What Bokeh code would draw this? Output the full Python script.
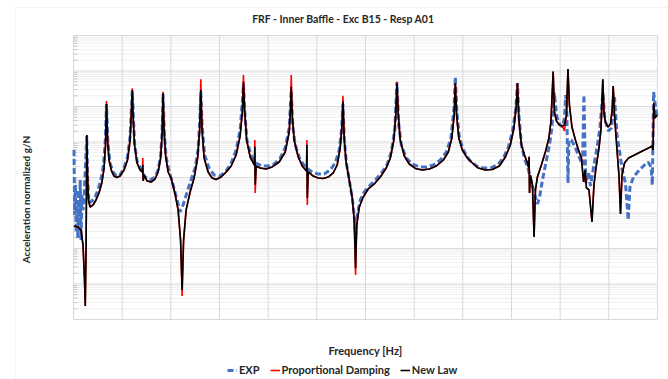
import math

from bokeh.embed import file_html
from bokeh.models import BoxAnnotation, Label, Legend, LegendItem, Range1d
from bokeh.plotting import figure
from bokeh.resources import INLINE

FONT = "Lato"
TEXT_COLOR = "#262626"

# ---- Model frequency grid [Hz] shared by both numerical models ----
freq_model = [
    0.5, 4.6, 7.7, 9.8, 11.3, 12.1, 12.9, 13.4, 13.7, 14.4,
    15.4, 17.0, 20.1, 23.1, 26.2, 29.3, 31.4, 32.9, 33.9, 35.0,
    36.5, 39.1, 41.6, 44.7, 47.8, 51.9, 55.5, 58.1, 59.6, 60.4,
    61.2, 62.7, 65.3, 68.4, 70.7, 71.2, 71.6, 72.5, 75.6, 79.7,
    83.8, 86.9, 89.5, 91.0, 92.0, 93.1, 94.6, 97.2, 100.3, 104.4,
    107.5, 110.0, 111.6, 113.1, 115.7, 119.8, 123.9, 127.5, 129.6, 130.8,
    132.1, 134.2, 138.3, 142.4, 146.5, 151.7, 156.8, 162.0, 167.1, 171.2,
    173.6, 174.6, 175.8, 177.9, 181.5, 185.9, 186.3, 186.7, 187.7, 191.8,
    197.9, 204.1, 211.3, 217.5, 221.6, 222.9, 223.7, 224.7, 226.7, 230.9,
    235.0, 239.4, 239.8, 240.2, 241.1, 246.3, 251.4, 256.6, 261.7, 266.8,
    270.9, 274.0, 275.9, 276.8, 278.2, 280.2, 283.3, 286.4, 288.4, 289.8,
    291.0, 293.6, 297.7, 302.8, 309.0, 315.2, 321.3, 325.5, 329.1, 331.1,
    332.3, 333.7, 335.7, 339.9, 345.0, 351.2, 358.4, 365.6, 372.8, 380.0,
    385.1, 388.7, 391.1, 392.3, 393.6, 395.9, 399.5, 404.6, 409.8, 415.9,
    423.1, 430.3, 437.5, 443.7, 448.8, 452.5, 455.0, 456.1, 457.6, 460.2,
    463.3, 466.4, 467.7, 468.1, 468.5, 469.4, 471.5, 473.2, 474.6, 476.6,
    480.7, 484.8, 488.4, 490.5, 492.8, 494.1, 496.2, 499.2, 502.3, 504.4,
    506.5, 508.0, 509.5, 512.1, 515.7, 518.8, 521.9, 523.4, 524.1, 525.5,
    527.0, 529.6, 532.7, 534.7, 536.8, 539.9, 541.9, 543.8, 545.0, 546.5,
    549.1, 551.7, 553.4, 554.5, 555.8, 558.4, 560.4, 562.0, 563.5, 566.1,
    570.2, 576.4, 582.5, 588.7, 592.8, 594.4, 595.4, 596.2, 597.4, 599.7,
]

# ---- New Law model [g/N] ----
amp_new_law = [
    4.30e-4, 4.03e-4, 3.32e-4, 1.25e-4, 1.29e-5, 2.40e-6, 9.06e-5, 8.5e-3, 0.158, 0.0117,
    2.32e-3, 1.48e-3, 1.68e-3, 2.32e-3, 3.66e-3, 7.47e-3, 0.0185, 0.0823, 1.17, 0.113,
    0.0311, 0.0153, 0.011, 0.0100, 0.011, 0.0163, 0.0311, 0.113, 0.797, 2.91,
    0.576, 0.0823, 0.0256, 0.0163, 0.0143, 0.0225, 7.97e-3, 0.0117, 7.97e-3, 7.47e-3,
    9.06e-3, 0.0143, 0.0354, 0.158, 2.35, 0.218, 0.043, 0.0143, 9.68e-3, 3.43e-3,
    1.21e-3, 1.74e-4, 6.78e-6, 1.74e-4, 1.21e-3, 3.90e-3, 9.68e-3, 0.0354, 0.218, 2.91,
    0.218, 0.0354, 0.0143, 9.68e-3, 8.78e-3, 0.0103, 0.0143, 0.0211, 0.043, 0.148,
    0.797, 5.0, 0.797, 0.113, 0.0378, 0.0225, 0.0737, 6.15e-3, 0.0211, 0.0185,
    0.0174, 0.0198, 0.0273, 0.0523, 0.191, 0.797, 3.61, 0.576, 0.113, 0.0378,
    0.0211, 0.0153, 0.0823, 2.64e-3, 0.0143, 0.011, 9.68e-3, 9.37e-3, 0.0103, 0.0134,
    0.0225, 0.0678, 0.301, 1.37, 0.113, 0.0256, 8.5e-3, 2.64e-3, 6.35e-4, 2.82e-5,
    4.59e-4, 1.48e-3, 2.82e-3, 4.75e-3, 6.56e-3, 0.0103, 0.0185, 0.0354, 0.113, 0.576,
    4.5, 0.576, 0.113, 0.0403, 0.024, 0.018, 0.0163, 0.0174, 0.0211, 0.0311,
    0.0523, 0.129, 0.576, 4.5, 0.576, 0.129, 0.0595, 0.0354, 0.0256, 0.0185,
    0.0163, 0.0168, 0.0211, 0.0378, 0.0823, 0.248, 1.10, 4.5, 0.417, 0.0823,
    0.043, 0.0256, 0.0185, 0.0386, 3.66e-3, 0.0117, 6.15e-3, 2.11e-4, 4.45e-3, 0.0103,
    0.0225, 0.0523, 0.129, 0.366, 9.68, 0.70, 0.39, 0.301, 0.282, 0.301,
    0.576, 11.4, 1.10, 0.264, 0.113, 0.0595, 0.0354, 0.0117, 7.47e-3, 0.0163,
    5.07e-3, 4.45e-3, 5.58e-4, 6.15e-3, 0.0185, 0.0678, 0.218, 5.84, 0.70, 0.366,
    0.264, 0.321, 0.797, 3.78, 0.576, 0.0595, 0.0117, 9.37e-4, 0.0117, 0.0256,
    0.0354, 0.043, 0.0523, 0.0635, 0.0723, 0.0772, 0.0595, 1.25, 0.475, 0.576,
]

# ---- Proportional Damping model [g/N] ----
amp_proportional = [
    4.30e-4, 4.03e-4, 3.32e-4, 1.25e-4, 1.29e-5, 2.40e-6, 9.06e-5, 8.5e-3, 0.158, 0.0117,
    2.32e-3, 1.48e-3, 1.68e-3, 2.32e-3, 3.66e-3, 7.47e-3, 0.0185, 0.0823, 1.43, 0.113,
    0.0311, 0.0153, 0.011, 0.0100, 0.011, 0.0163, 0.0311, 0.113, 0.797, 3.25,
    0.576, 0.0823, 0.0256, 0.0163, 0.0143, 0.0354, 7.97e-3, 0.0117, 7.97e-3, 7.47e-3,
    9.06e-3, 0.0143, 0.0354, 0.158, 2.61, 0.218, 0.043, 0.0143, 9.68e-3, 3.43e-3,
    1.21e-3, 1.74e-4, 4.59e-6, 1.74e-4, 1.21e-3, 3.90e-3, 9.68e-3, 0.0354, 0.218, 5.84,
    0.218, 0.0354, 0.0143, 9.68e-3, 8.78e-3, 0.0103, 0.0143, 0.0211, 0.043, 0.148,
    0.797, 7.72, 0.797, 0.113, 0.0378, 0.0225, 0.113, 3.66e-3, 0.0211, 0.0185,
    0.0174, 0.0198, 0.0273, 0.0523, 0.191, 0.797, 7.72, 0.576, 0.113, 0.0378,
    0.0211, 0.0153, 0.113, 1.68e-3, 0.0143, 0.011, 9.68e-3, 9.37e-3, 0.0103, 0.0134,
    0.0225, 0.0678, 0.301, 2.02, 0.113, 0.0256, 8.5e-3, 2.64e-3, 6.35e-4, 1.8e-5,
    4.59e-4, 1.48e-3, 2.82e-3, 4.75e-3, 6.56e-3, 0.0103, 0.0185, 0.0354, 0.113, 0.576,
    5.0, 0.576, 0.113, 0.0403, 0.024, 0.018, 0.0163, 0.0174, 0.0211, 0.0311,
    0.0523, 0.129, 0.576, 4.5, 0.576, 0.129, 0.0595, 0.0354, 0.0256, 0.0185,
    0.0163, 0.0168, 0.0211, 0.0378, 0.0823, 0.248, 1.10, 4.5, 0.417, 0.0823,
    0.043, 0.0256, 0.0185, 0.0386, 3.66e-3, 0.0117, 6.15e-3, 2.11e-4, 4.45e-3, 0.0103,
    0.0225, 0.0523, 0.129, 0.366, 9.68, 0.70, 0.39, 0.301, 0.282, 0.205,
    0.576, 11.4, 1.10, 0.264, 0.113, 0.0595, 0.0354, 0.0117, 7.47e-3, 0.0163,
    5.07e-3, 4.45e-3, 5.58e-4, 6.15e-3, 0.0185, 0.0678, 0.218, 5.84, 0.70, 0.366,
    0.264, 0.321, 0.797, 3.78, 0.576, 0.0595, 0.0117, 9.37e-4, 0.0117, 0.0256,
    0.0354, 0.043, 0.0523, 0.0635, 0.0723, 0.0772, 0.0595, 1.25, 0.475, 0.576,
]

# ---- Measured FRF (EXP) ----
freq_exp = [
    0.5, 1.2, 2.0, 2.8, 3.6, 4.4, 5.2, 6.1, 6.9, 7.7,
    8.7, 9.8, 10.8, 12.1, 13.6, 14.5, 15.9, 19.0, 22.1, 25.2,
    28.3, 30.8, 32.7, 33.9, 35.3, 37.5, 40.6, 44.2, 47.8, 51.9,
    55.5, 58.1, 60.4, 62.7, 65.3, 69.4, 73.6, 78.7, 83.8, 86.9,
    89.5, 91.0, 92.0, 93.3, 95.1, 98.2, 102.3, 106.4, 109.5, 112.6,
    116.7, 120.8, 124.9, 128.0, 129.9, 130.8, 132.1, 134.7, 139.3, 144.5,
    150.6, 156.8, 162.0, 167.1, 171.2, 173.6, 174.6, 176.0, 178.2, 182.3,
    187.4, 193.6, 199.8, 206.2, 212.4, 217.5, 221.6, 223.7, 225.2, 227.8,
    232.9, 239.1, 245.3, 251.4, 257.6, 263.8, 268.9, 273.0, 275.6, 276.8,
    278.2, 280.2, 283.3, 286.4, 288.4, 289.8, 291.5, 294.6, 298.7, 304.9,
    311.0, 317.2, 322.4, 326.5, 330.1, 332.3, 334.2, 336.8, 341.9, 348.1,
    355.3, 362.5, 369.7, 376.9, 383.1, 387.7, 390.8, 392.3, 393.9, 396.4,
    400.5, 406.7, 413.9, 421.1, 428.3, 435.5, 441.7, 446.8, 450.9, 454.5,
    456.1, 457.6, 460.2, 463.3, 467.4, 471.0, 474.6, 476.6, 478.7, 481.8,
    485.9, 489.0, 491.5, 494.1, 496.2, 499.2, 502.3, 504.4, 505.7, 506.9,
    508.0, 509.0, 511.6, 515.7, 519.9, 523.0, 524.4, 525.5, 526.5, 529.1,
    531.1, 534.2, 537.8, 540.9, 543.8, 546.0, 549.6, 552.7, 555.8, 558.4,
    561.3, 563.7, 567.1, 569.9, 571.7, 575.3, 580.5, 585.6, 590.3, 593.4,
    594.7, 596.0, 598.0, 599.7,
]
amp_exp = [
    0.0595, 8.78e-4, 6.15e-3, 2.91e-4, 2.32e-3, 1.98e-4, 4.45e-3, 4.30e-4, 8.5e-3, 1.74e-4,
    3.21e-3, 1.21e-3, 2.32e-3, 0.0163, 0.148, 9.68e-3, 1.91e-3, 2.18e-3, 2.82e-3, 4.45e-3,
    9.06e-3, 0.0225, 0.113, 1.17, 0.1, 0.0256, 0.0143, 0.011, 0.0117, 0.0185,
    0.0378, 0.138, 2.73, 0.0937, 0.0291, 0.0163, 0.0103, 8.5e-3, 0.0103, 0.0163,
    0.0403, 0.18, 2.25, 0.191, 0.0378, 0.0153, 6.15e-3, 2.32e-3, 1.07e-3, 1.68e-3,
    3.90e-3, 8.5e-3, 0.0185, 0.0595, 0.475, 2.56, 0.301, 0.043, 0.0185, 0.0117,
    0.011, 0.0153, 0.0256, 0.0595, 0.218, 1.53, 4.3, 0.70, 0.113, 0.043,
    0.0256, 0.0211, 0.0211, 0.024, 0.0354, 0.0678, 0.248, 2.91, 0.301, 0.0823,
    0.0311, 0.0185, 0.0143, 0.0125, 0.0125, 0.0163, 0.0256, 0.0595, 0.248, 1.17,
    0.129, 0.0273, 8.5e-3, 2.64e-3, 8.78e-4, 2.25e-4, 8.78e-4, 2.32e-3, 3.90e-3, 6.15e-3,
    9.06e-3, 0.0143, 0.024, 0.0523, 0.218, 4.9, 0.301, 0.0823, 0.0354, 0.024,
    0.0198, 0.0198, 0.0225, 0.0311, 0.0523, 0.129, 0.797, 6.78, 0.70, 0.138,
    0.0595, 0.0311, 0.0211, 0.0185, 0.0185, 0.0225, 0.0354, 0.0723, 0.191, 0.906,
    4.59, 0.576, 0.0823, 0.0354, 0.0163, 6.56e-3, 2.82e-3, 1.80e-3, 2.64e-3, 8.5e-3,
    0.0311, 0.0823, 0.248, 2.40, 0.576, 0.321, 0.264, 0.475, 2.11, 0.576,
    7.0e-3, 0.113, 0.113, 0.0678, 0.0354, 0.0225, 2.11, 0.0595, 7.0e-3, 0.0143,
    5.76e-3, 0.0185, 0.0678, 0.248, 2.40, 0.417, 0.205, 0.248, 1.85, 0.158,
    0.049, 0.0163, 7.0e-3, 6.35e-4, 5.4e-3, 0.0103, 0.0153, 0.0211, 0.0273, 0.0198,
    6.15e-3, 2.56, 0.968, 0.51,
]

TITLE = "FRF - Inner Baffle - Exc B15 - Resp A01"
X_TITLE = "Frequency [Hz]"
Y_TITLE = "Acceleration normalized g/N"
SERIES_NAMES = ["EXP", "Proportional Damping", "New Law"]

# axis limits of the plot area and its grid spacing
F_MIN, F_MAX, F_STEP = 0, 600, 50
DEC_MIN, DEC_MAX = -6, 2

# canvas and plot-area placement (pixels)
W, H = 668, 379
AREA_L, AREA_R, AREA_T, AREA_B = 73, 657, 35, 319

# The frame covers the whole canvas so that all texts stay inside it; the
# ranges are widened so that the plot area lands on AREA_* in pixels.
px_per_hz = (AREA_R - AREA_L) / (F_MAX - F_MIN)
px_per_dec = (AREA_B - AREA_T) / (DEC_MAX - DEC_MIN)
x_start = F_MIN - AREA_L / px_per_hz
x_end = F_MAX + (W - AREA_R) / px_per_hz
y_start = 10 ** (DEC_MIN - (H - AREA_B) / px_per_dec)
y_end = 10 ** (DEC_MAX + AREA_T / px_per_dec)

p = figure(
    width=W, height=H,
    x_range=Range1d(x_start, x_end), y_range=Range1d(y_start, y_end),
    y_axis_type="log", x_axis_location=None, y_axis_location=None,
    output_backend="svg", toolbar_location=None,
    min_border=0, min_border_left=0, min_border_right=0,
    min_border_top=0, min_border_bottom=0,
    background_fill_color="white", border_fill_color="white",
)
p.outline_line_color = None
p.grid.visible = False

# ---- grid of the plot area ----
y_lo, y_hi = 10.0 ** DEC_MIN, 10.0 ** DEC_MAX
minor_y = [m * 10.0 ** k for k in range(DEC_MIN, DEC_MAX) for m in range(2, 10)]
major_y = [10.0 ** k for k in range(DEC_MIN, DEC_MAX + 1)]
grid_x = list(range(F_MIN, F_MAX + 1, F_STEP))

p.segment(x0=[F_MIN] * len(minor_y), x1=[F_MAX] * len(minor_y), y0=minor_y, y1=minor_y,
          line_color="#EFEFEF", line_width=1)
p.segment(x0=[F_MIN] * len(major_y), x1=[F_MAX] * len(major_y), y0=major_y, y1=major_y,
          line_color="#D9D9D9", line_width=1)
p.segment(x0=grid_x, x1=grid_x, y0=[y_lo] * len(grid_x), y1=[y_hi] * len(grid_x),
          line_color="#D9D9D9", line_width=1)
# short minor tick marks on the value axis
tick_len = 4 / px_per_hz
p.segment(x0=[F_MIN] * len(minor_y), x1=[F_MIN + tick_len] * len(minor_y),
          y0=minor_y, y1=minor_y, line_color="#C8C8C8", line_width=1)

# ---- series ----
r_exp = p.line(freq_exp, amp_exp, line_color="#4472C4", line_width=3, line_dash="6 3")
r_prop = p.line(freq_model, amp_proportional, line_color="#FF0000", line_width=1.6)
r_new = p.line(freq_model, amp_new_law, line_color="#000000", line_width=1.6)

# ---- outer chart-area border ----
p.add_layout(BoxAnnotation(left=15, right=W + 20, top=H - 7, bottom=-20,
                           left_units="screen", right_units="screen",
                           top_units="screen", bottom_units="screen",
                           fill_alpha=0, line_color="#D9D9D9", line_width=1))

# ---- titles (screen units measured from the bottom-left corner) ----
p.add_layout(Label(x=343, y=H - 18, x_units="screen", y_units="screen", text=TITLE,
                   text_font=FONT, text_font_style="bold", text_font_size="10.5px",
                   text_color=TEXT_COLOR, text_align="center", text_baseline="middle"))
p.add_layout(Label(x=365, y=H - 350, x_units="screen", y_units="screen", text=X_TITLE,
                   text_font=FONT, text_font_style="bold", text_font_size="11px",
                   text_color=TEXT_COLOR, text_align="center", text_baseline="middle"))
p.add_layout(Label(x=25, y=H - 199, x_units="screen", y_units="screen", text=Y_TITLE,
                   angle=math.pi / 2,
                   text_font=FONT, text_font_style="bold", text_font_size="10px",
                   text_color=TEXT_COLOR, text_align="center", text_baseline="middle"))

legend = Legend(
    items=[LegendItem(label=SERIES_NAMES[0], renderers=[r_exp]),
           LegendItem(label=SERIES_NAMES[1], renderers=[r_prop]),
           LegendItem(label=SERIES_NAMES[2], renderers=[r_new])],
    orientation="horizontal", location=(227, 3),
    label_text_font=FONT, label_text_font_style="bold", label_text_font_size="11px",
    label_text_color=TEXT_COLOR, label_standoff=2, label_height=12,
    glyph_width=10, glyph_height=12, spacing=10, padding=0, margin=0,
    border_line_color=None, background_fill_alpha=0,
)
p.add_layout(legend)

open("out.html", "w").write(file_html(p, INLINE))
